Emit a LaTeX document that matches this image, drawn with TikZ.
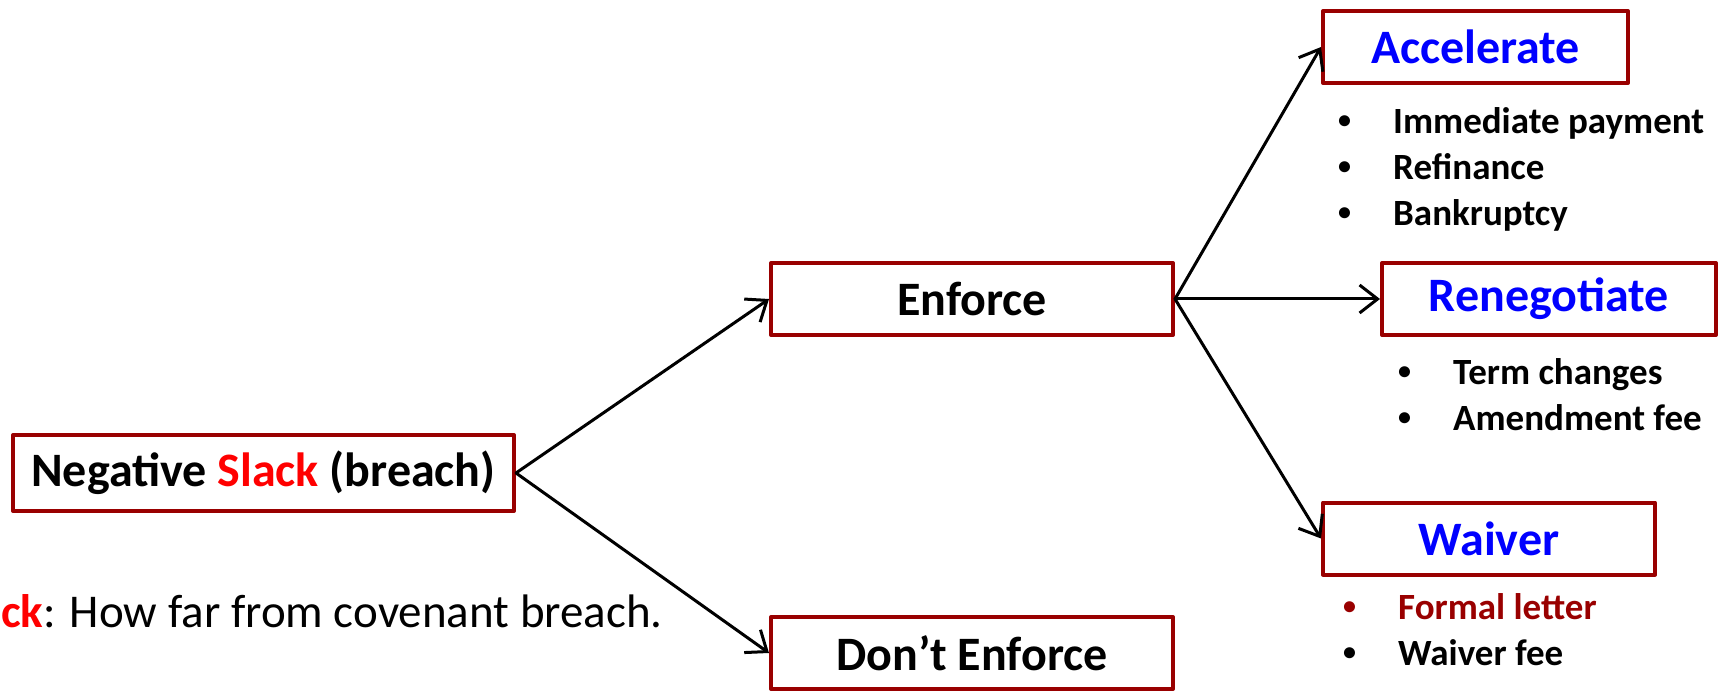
\documentclass[tikz,border=0pt]{standalone}
\usepackage{fontspec}
\setmainfont{Carlito}
\usepackage{xcolor}
\usepackage{tikz}
\usetikzlibrary{arrows.meta}
\usetikzlibrary{positioning}

\begin{document}
\begin{tikzpicture}[
      % un punto per pixel, asse y verso il basso
      x=1pt,
      y=-1pt,
      line join=round,
      line cap=round
  ]

  % Palette
  \definecolor{boxred}{RGB}{153, 0, 0}
  \definecolor{slackred}{RGB}{255, 0, 0}
  \definecolor{optblue}{RGB}{0, 0, 255}

  \tikzset{
      choice/.style={draw=boxred, line width=4pt, fill=white, minimum height=72pt, inner sep=0pt,
                     font=\bfseries\fontsize{48}{52}\selectfont},
      branch/.style={draw=black, line width=3pt, -{Straight Barb[length=18pt, width=28pt, line width=3pt]}},
      bullets/.style={anchor=north west, align=left, inner sep=0pt, font=\bfseries\fontsize{37}{46}\selectfont}
  }
  \newcommand{\opt}[1]{\makebox[55pt][l]{\raisebox{5pt}{\fontsize{26}{26}\selectfont\textbullet}}#1}

  \useasboundingbox (0, 0) rectangle (1729, 692);

  % 1. Nota sullo slack
  \node[anchor=east, inner sep=0pt, font=\fontsize{47}{50}\selectfont] (note) at (663, 611)
      {\textcolor{slackred}{\bfseries ck}: How far from covenant breach.};

  % 2. Riquadri delle decisioni
  \node[choice, minimum width=501pt, minimum height=76pt] (neg) at (263.5, 473) {Negative \textcolor{slackred}{Slack} (breach)};
  \node[choice, minimum width=402pt] (enf)  at (972, 299) {Enforce};
  \node[choice, minimum width=402pt] (dont) at (972, 653) {Don't Enforce};

  \node[choice, minimum width=305pt, text=optblue] (acc)   at (1475.5, 47)  {Accelerate};
  \node[choice, minimum width=334pt, text=optblue] (reneg) at (1549, 299)   {Renegotiate};
  \node[choice, minimum width=332pt, text=optblue] (waiv)  at (1489, 538.5) {Waiver};

  % 3. Elenchi sotto le opzioni
  \node[bullets] (accl) at ([xshift=17pt, yshift=-22pt]acc.south west)
      {\opt{Immediate payment}\\ \opt{Refinance}\\ \opt{Bankruptcy}};
  \node[bullets] (renegl) at ([xshift=18pt, yshift=-21pt]reneg.south west)
      {\opt{Term changes}\\ \opt{Amendment fee}};
  \node[bullets] (waivl) at ([xshift=22pt, yshift=-17pt]waiv.south west)
      {\textcolor{boxred}{\opt{Formal letter}}\\ \opt{Waiver fee}};

  % 4. Frecce
  \draw[branch] (neg.east) -- (enf.west);
  \draw[branch] (neg.east) -- (dont.west);
  \draw[branch] (enf.east) -- (acc.west);
  \draw[branch] (enf.east) -- (reneg.west);
  \draw[branch] (enf.east) -- (waiv.west);

\end{tikzpicture}
\end{document}
